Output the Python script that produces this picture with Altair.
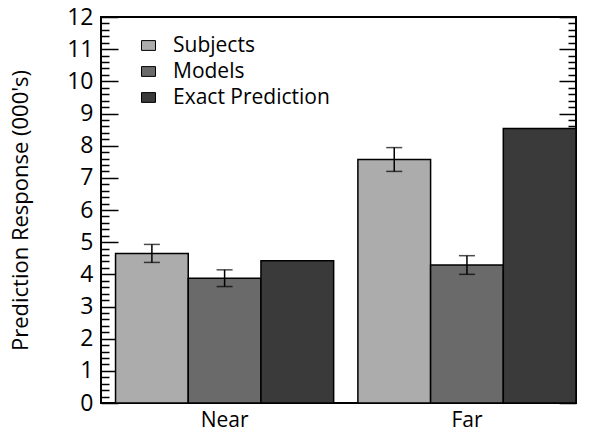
import altair as alt
import pandas as pd

# ---- data ----
conditions = ["Near", "Far"]
series = ["Subjects", "Models", "Exact Prediction"]
near_values = [4.65, 3.88, 4.42]
far_values = [7.57, 4.29, 8.53]
near_errors = [0.28, 0.26, 0.0]
far_errors = [0.37, 0.29, 0.0]
has_error = [True, True, False]
colors = ["#acacac", "#6a6a6a", "#3a3a3a"]
major_ticks = list(range(0, 13))
minor_ticks = [i / 5 for i in range(0, 61) if i % 5 != 0]

rows = []
for cond, vals, errs in [("Near", near_values, near_errors), ("Far", far_values, far_errors)]:
    for s, v, e, h in zip(series, vals, errs, has_error):
        rows.append({"condition": cond, "series": s, "value": v,
                     "lo": v - e, "hi": v + e, "err": h})
df = pd.DataFrame(rows)
err_df = df[df["err"]]

W, H = 475, 386
FONT = "Open Sans"

yscale = alt.Scale(domain=[0, 12], nice=False, zero=True)
x_enc = alt.X("condition:N", sort=conditions,
              scale=alt.Scale(paddingInner=0.1, paddingOuter=0.03, align=1),
              axis=alt.Axis(title=None, labelAngle=0, ticks=False, domain=False,
                            labelFontSize=21, labelPadding=6, labelColor="black",
                            labelFont=FONT))
xoff = alt.XOffset("series:N", sort=series,
                   scale=alt.Scale(paddingInner=0, paddingOuter=0))

bars = alt.Chart(df).mark_bar(stroke="black", strokeWidth=1.5).encode(
    x=x_enc,
    xOffset=xoff,
    y=alt.Y("value:Q", scale=yscale,
            axis=alt.Axis(orient="left", values=major_ticks, ticks=False, domain=False,
                          grid=False, labelFontSize=23, labelPadding=8, labelColor="black",
                          labelFont=FONT, title="Prediction Response (000's)",
                          titleFontSize=22, titleFontWeight="normal", titleFont=FONT,
                          titleColor="black", titlePadding=34)),
    color=alt.Color("series:N", sort=series,
                    scale=alt.Scale(domain=series, range=colors),
                    legend=alt.Legend(title=None, orient="none", legendX=37, legendY=18,
                                      symbolType="M-1,-0.7L1,-0.7L1,0.7L-1,0.7Z",
                                      symbolSize=196, symbolStrokeColor="black",
                                      symbolStrokeWidth=1, labelFontSize=21,
                                      labelFont=FONT, labelColor="black",
                                      labelOffset=14, rowPadding=4)),
)

err_rule = alt.Chart(err_df).mark_rule(color="black", strokeWidth=1.5).encode(
    x=x_enc, xOffset=xoff,
    y=alt.Y("lo:Q", scale=yscale,
            axis=alt.Axis(orient="right", offset=-W, values=major_ticks, tickSize=17,
                          tickWidth=1.5, tickColor="black", labels=False, domain=False,
                          grid=False, title=None)),
    y2="hi:Q",
)
cap_lo = alt.Chart(err_df).mark_tick(color="black", thickness=1.5, size=16).encode(
    x=x_enc, xOffset=xoff,
    y=alt.Y("lo:Q", scale=yscale,
            axis=alt.Axis(orient="right", offset=-W, values=minor_ticks, tickSize=8,
                          tickWidth=1.5, tickColor="black", labels=False, domain=False,
                          grid=False, title=None)),
)
cap_hi = alt.Chart(err_df).mark_tick(color="black", thickness=1.5, size=16).encode(
    x=x_enc, xOffset=xoff,
    y=alt.Y("hi:Q", scale=yscale,
            axis=alt.Axis(orient="left", offset=-W, values=major_ticks, tickSize=17,
                          tickWidth=1.5, tickColor="black", labels=False, domain=False,
                          grid=False, title=None)),
)
dummy = alt.Chart(df).mark_point(opacity=0).encode(
    y=alt.Y("value:Q", scale=yscale,
            axis=alt.Axis(orient="left", offset=-W, values=minor_ticks, tickSize=8,
                          tickWidth=1.5, tickColor="black", labels=False, domain=False,
                          grid=False, title=None)),
)

chart = alt.layer(bars, err_rule, cap_lo, cap_hi, dummy).resolve_axis(
    y="independent"
).properties(
    width=W, height=H,
    autosize=alt.AutoSizeParams(type="none"),
    padding={"left": 101, "top": 17, "right": 13, "bottom": 32},
    background="white",
).configure_view(stroke="black", strokeWidth=2)

chart.save("out.html", embed_options={"renderer": "svg", "actions": False})
